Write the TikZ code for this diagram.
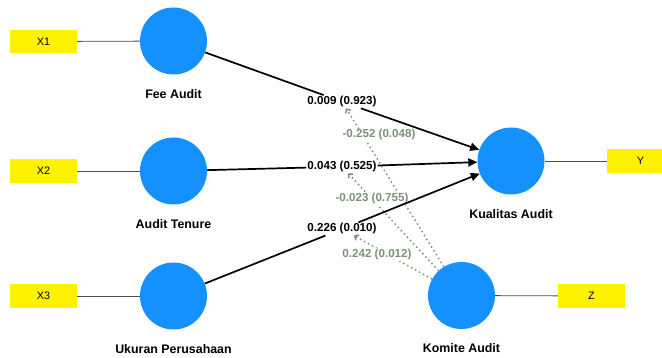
\documentclass[tikz,border=0pt]{standalone}
\usepackage{fontspec}
\setmainfont{Liberation Sans}
\usetikzlibrary{positioning,arrows.meta}
\definecolor{nodeblue}{RGB}{20,145,255}
\definecolor{modgray}{RGB}{125,145,120}

\begin{document}
\begin{tikzpicture}[x=1pt,y=-1pt,
        latent/.style={circle, fill=nodeblue, minimum size=67pt, inner sep=0pt},
        indic/.style={rectangle, fill=yellow, minimum width=67pt, minimum height=23.5pt, inner sep=0pt, font=\fontsize{10.8}{12}\selectfont},
        varname/.style={inner sep=0pt, font=\bfseries\fontsize{12.4}{14}\selectfont},
        coef/.style={fill=white, inner sep=1pt, font=\bfseries\fontsize{11.6}{13}\selectfont},
        modcoef/.style={coef, text=modgray},
        load/.style={draw=black!70, line width=0.8pt},
        effect/.style={line width=1.7pt},
        modline/.style={draw=modgray, line width=1.5pt, dash pattern=on 1.5pt off 3pt, -{Straight Barb[length=3pt,width=6pt]}},
        >={Triangle[length=9pt,width=8pt]}]
        \useasboundingbox (0,0) rectangle (662,358);
        \clip (0,0) rectangle (662,358);

        % Latent variables
        \node[latent] (fa) at (173.5,41) {};
        \node[latent] (at) at (173.5,171) {};
        \node[latent] (up) at (173.5,296) {};
        \node[latent] (ka) at (511,161) {};
        \node[latent] (km) at (461.5,295.5) {};

        \node[varname, below=15pt of fa] (faname) {Fee Audit};
        \node[varname, below=14.5pt of at] (atname) {Audit Tenure};
        \node[varname, below=14.5pt of up] (upname) {Ukuran Perusahaan};
        \node[varname, below=15pt of ka] (kaname) {Kualitas Audit};
        \node[varname, below=14.5pt of km] (kmname) {Komite Audit};

        % Indicators
        \node[indic] (x1) at (43.5,41.5) {X1};
        \node[indic] (x2) at (43.5,171) {X2};
        \node[indic] (x3) at (43.5,296) {X3};
        \node[indic] (y) at (640.5,161) {Y};
        \node[indic] (z) at (591.5,296) {Z};

        \draw[load] (x1) -- (fa);
        \draw[load] (x2) -- (at);
        \draw[load] (x3) -- (up);
        \draw[load] (ka) -- (y);
        \draw[load] (km) -- (z);

        % Path coefficients
        \node[coef] (c1) at (342,101.7) {0.009 (0.923)};
        \node[coef] (c2) at (342,166.7) {0.043 (0.525)};
        \node[coef] (c3) at (342,229) {0.226 (0.010)};

        % Moderation
        \draw[modline] (km) -- (c1);
        \draw[modline] (km) -- (c2);
        \draw[modline] (km) -- (c3);

        \node[modcoef] (m1) at (379,135) {-0.252 (0.048)};
        \node[modcoef] (m2) at (372,198.3) {-0.023 (0.755)};
        \node[modcoef] (m3) at (377,254.3) {0.242 (0.012)};

        % Direct effects
        \draw[effect] (fa) -- (c1);
        \draw[effect, ->] (c1) -- (ka);
        \draw[effect] (at) -- (c2);
        \draw[effect, ->] (c2) -- (ka);
        \draw[effect] (up) -- (c3);
        \draw[effect, ->] (c3) -- (ka);
    \end{tikzpicture}
\end{document}
